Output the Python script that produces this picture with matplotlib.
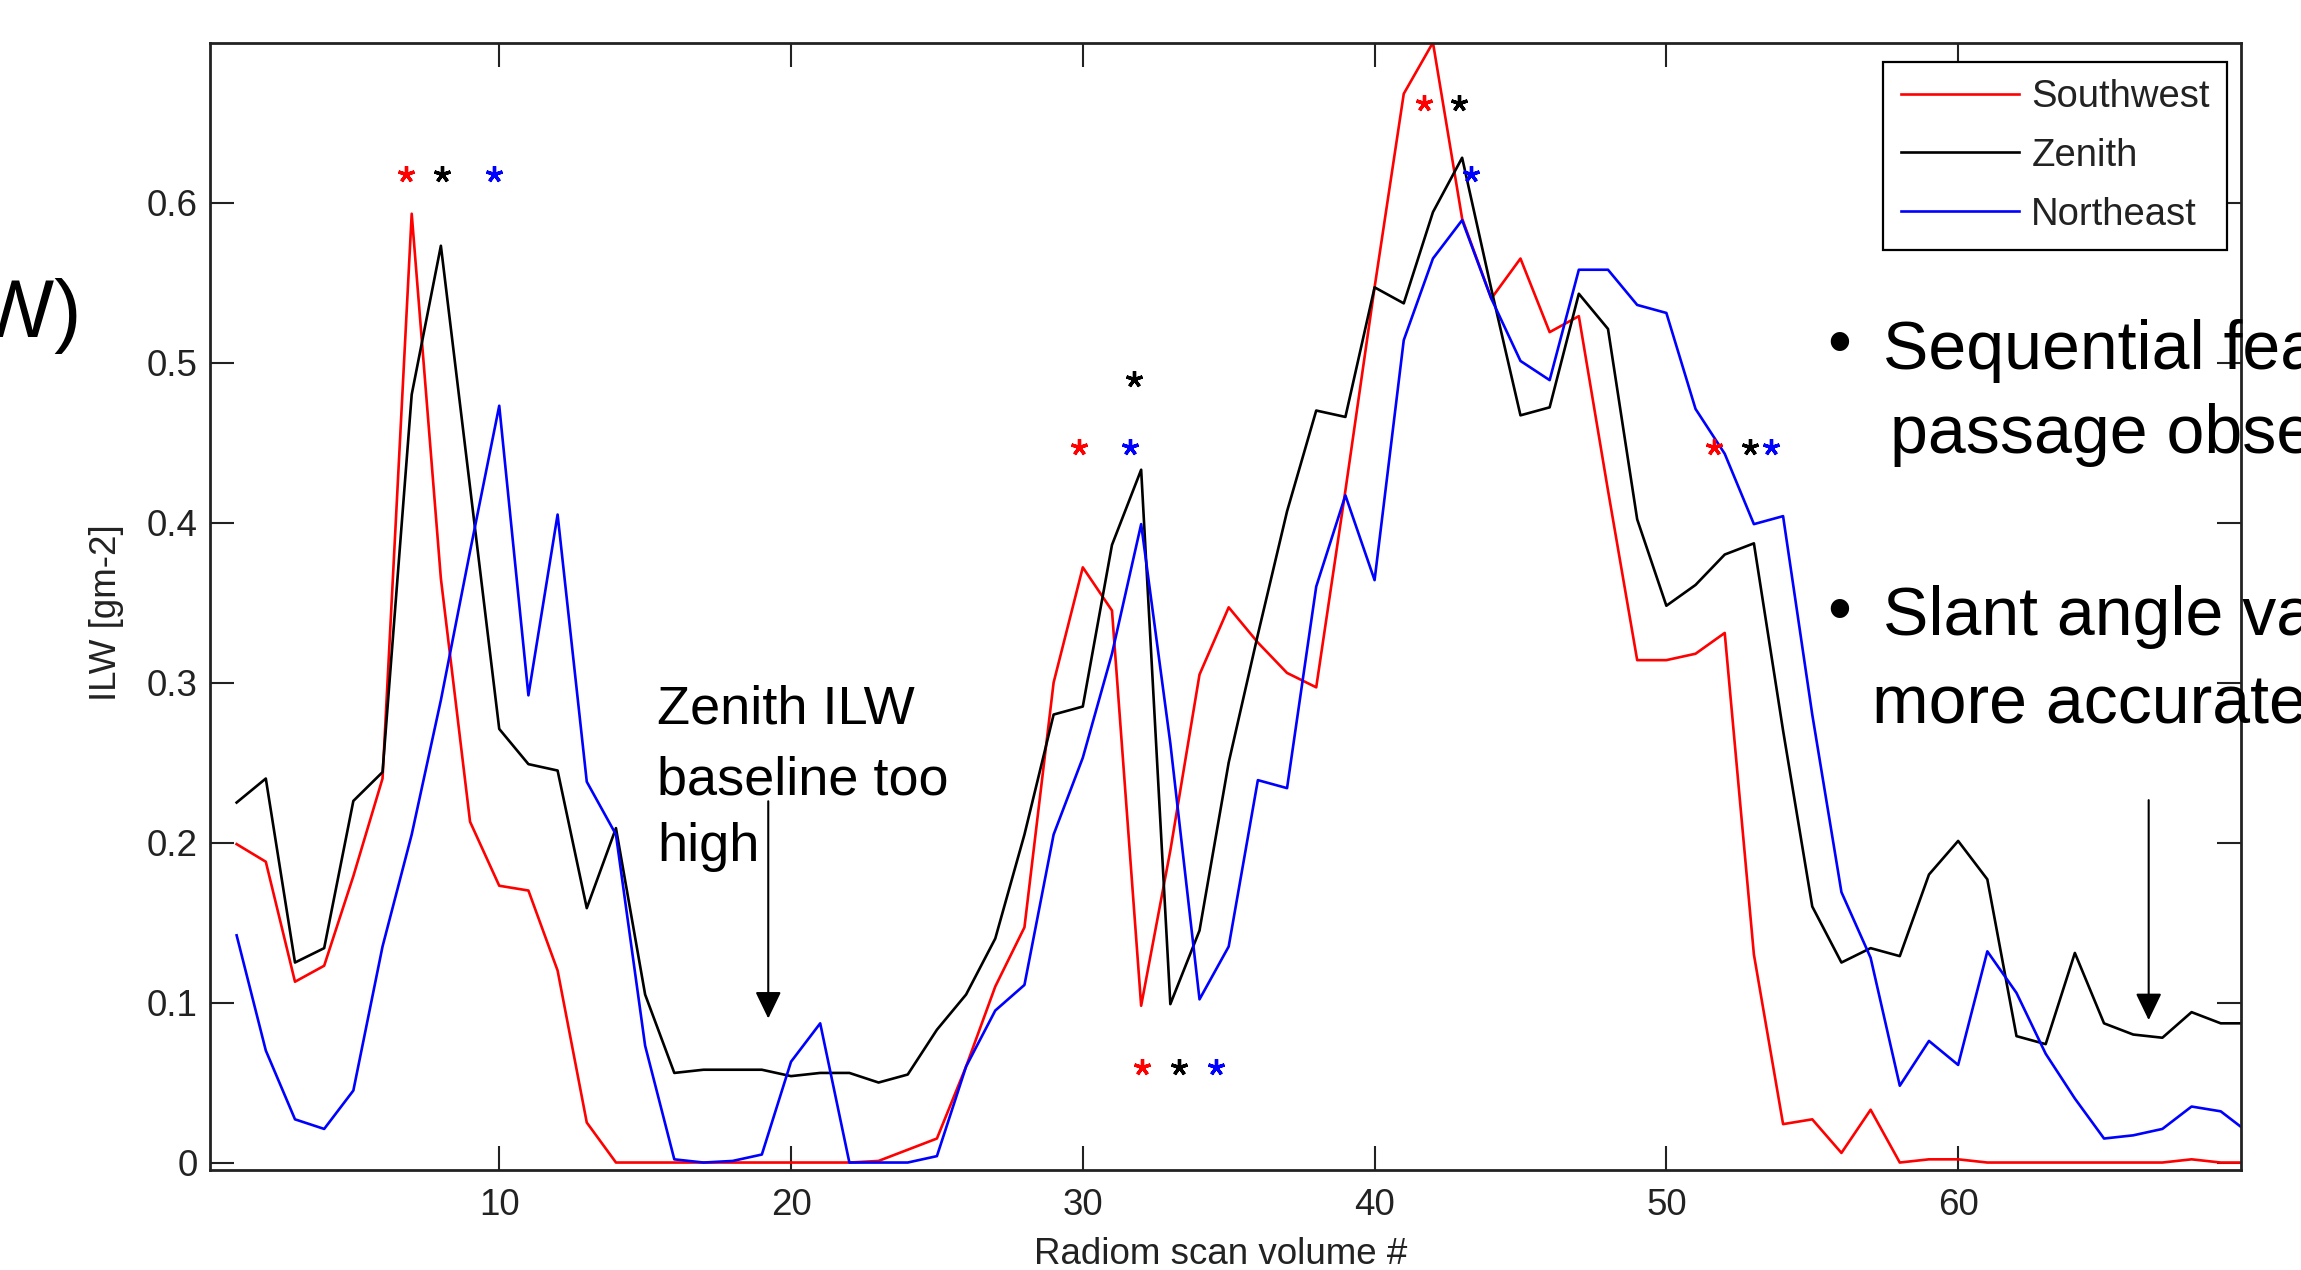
import matplotlib
matplotlib.use("Agg")
import matplotlib.pyplot as plt

# scan volume index
scan = list(range(1, 71))

southwest = [0.199, 0.188, 0.113, 0.123, 0.179, 0.240, 0.593, 0.365, 0.213, 0.173,
             0.170, 0.120, 0.025, 0.0, 0.0, 0.0, 0.0, 0.0, 0.0, 0.0,
             0.0, 0.0, 0.001, 0.008, 0.015, 0.060, 0.110, 0.147, 0.300, 0.372,
             0.345, 0.098, 0.195, 0.305, 0.347, 0.325, 0.306, 0.297, 0.420, 0.547,
             0.668, 0.700, 0.590, 0.540, 0.565, 0.519, 0.529, 0.420, 0.314, 0.314,
             0.318, 0.331, 0.130, 0.024, 0.027, 0.006, 0.033, 0.0, 0.002, 0.002,
             0.0, 0.0, 0.0, 0.0, 0.0, 0.0, 0.0, 0.002, 0.0, 0.0]

zenith = [0.225, 0.240, 0.125, 0.134, 0.226, 0.244, 0.480, 0.573, 0.422, 0.271,
          0.249, 0.245, 0.159, 0.209, 0.105, 0.056, 0.058, 0.058, 0.058, 0.054,
          0.056, 0.056, 0.050, 0.055, 0.083, 0.105, 0.140, 0.205, 0.280, 0.285,
          0.386, 0.433, 0.099, 0.145, 0.250, 0.330, 0.407, 0.470, 0.466, 0.547,
          0.537, 0.594, 0.628, 0.546, 0.467, 0.472, 0.543, 0.521, 0.402, 0.348,
          0.361, 0.380, 0.387, 0.270, 0.160, 0.125, 0.134, 0.129, 0.180, 0.201,
          0.177, 0.079, 0.074, 0.131, 0.087, 0.080, 0.078, 0.094, 0.087, 0.087]

northeast = [0.142, 0.070, 0.027, 0.021, 0.045, 0.135, 0.205, 0.289, 0.382, 0.473,
             0.292, 0.405, 0.238, 0.205, 0.073, 0.002, 0.0, 0.001, 0.005, 0.063,
             0.087, 0.0, 0.0, 0.0, 0.004, 0.060, 0.095, 0.111, 0.205, 0.253,
             0.318, 0.399, 0.262, 0.102, 0.135, 0.239, 0.234, 0.360, 0.417, 0.364,
             0.514, 0.565, 0.589, 0.540, 0.501, 0.489, 0.558, 0.558, 0.536, 0.531,
             0.471, 0.443, 0.399, 0.404, 0.280, 0.169, 0.128, 0.048, 0.076, 0.061,
             0.132, 0.106, 0.068, 0.040, 0.015, 0.017, 0.021, 0.035, 0.032, 0.018]

# asterisks marking the feature passage
sw_star_x = [6.8, 29.86, 41.69, 32.03, 51.63]
sw_star_y = [0.618, 0.447, 0.662, 0.060, 0.447]
zen_star_x = [8.04, 31.77, 42.91, 33.29, 52.86]
zen_star_y = [0.618, 0.490, 0.662, 0.060, 0.447]
ne_star_x = [9.83, 31.63, 43.32, 34.55, 53.59]
ne_star_y = [0.618, 0.447, 0.618, 0.060, 0.447]

xticks = [10, 20, 30, 40, 50, 60]
yticks = [0, 0.1, 0.2, 0.3, 0.4, 0.5, 0.6]
ytick_labels = ['0', '0.1', '0.2', '0.3', '0.4', '0.5', '0.6']

plt.rcParams['font.family'] = ['Liberation Sans', 'DejaVu Sans']

W, H = 2301, 1270
fig = plt.figure(figsize=(W / 100, H / 100), dpi=100)
ax = fig.add_axes([0.0913, 0.0787, 0.8827, 0.8878])


def fig_xy(px, py):
    return px / W, 1 - py / H


ax.plot(scan, southwest, color='#ff0000', lw=1.9, label='Southwest')
ax.plot(scan, zenith, color='#000000', lw=1.9, label='Zenith')
ax.plot(scan, northeast, color='#0000ff', lw=1.9, label='Northeast')

star = (5, 2, 0)
ax.plot(sw_star_x, sw_star_y, ls='none', marker=star, ms=12, mew=2.4, color='#ff0000')
ax.plot(zen_star_x, zen_star_y, ls='none', marker=star, ms=12, mew=2.4, color='#000000')
ax.plot(ne_star_x, ne_star_y, ls='none', marker=star, ms=12, mew=2.4, color='#0000ff')

ax.set_xlim(0.09, 69.7)
ax.set_ylim(-0.0047, 0.7)
ax.set_xticks(xticks)
ax.set_yticks(yticks)
ax.set_yticklabels(ytick_labels)
ax.tick_params(direction='in', length=17, width=1.5, top=True, right=True,
               labelsize=26.5, labelcolor='#222222', color='#222222')
ax.tick_params(axis='x', pad=13)
ax.tick_params(axis='y', pad=9)
for s in ax.spines.values():
    s.set_linewidth(2)
    s.set_color('#222222')

ax.set_xlabel('Radiom scan volume #', fontsize=26.5, color='#222222')
ax.xaxis.set_label_coords(0.4973, -0.0595)
ax.set_ylabel('ILW [gm-2]', fontsize=26.5, color='#222222')
ax.yaxis.set_label_coords(-0.0423, 0.494)

leg = ax.legend(loc='upper right', bbox_to_anchor=(0.993, 0.983), borderaxespad=0,
                fontsize=27.5, frameon=True, fancybox=False, edgecolor='k',
                framealpha=1, borderpad=0.45, labelspacing=0.6,
                handlelength=3.1, handletextpad=0.32)
leg.get_frame().set_linewidth(1.6)
for t in leg.get_texts():
    t.set_color('#222222')

# annotation inside the plot
ax.text(15.42, 0.2742, 'Zenith ILW', fontsize=39, ha='left', va='baseline')
ax.text(15.42, 0.2303, 'baseline too', fontsize=39, ha='left', va='baseline')
ax.text(15.42, 0.1883, 'high', fontsize=39, ha='left', va='baseline')

arrow = dict(arrowstyle='-|>,head_length=0.83,head_width=0.4', mutation_scale=20,
             lw=1.5, color='k', shrinkA=0, shrinkB=0)
ax.annotate('', xy=(19.22, 0.090), xytext=(19.22, 0.2258), arrowprops=arrow)
ax.annotate('', xy=(66.53, 0.089), xytext=(66.53, 0.2265), arrowprops=arrow)

# slide text around the chart
fig.text(*fig_xy(82, 336.7), '(ILW)', fontsize=59, ha='right', va='baseline')
fig.text(*fig_xy(1839, 364), '\u2022', fontsize=49, ha='center', va='baseline')
fig.text(*fig_xy(1882.7, 369.4), 'Sequential feature', fontsize=49, ha='left', va='baseline')
fig.text(*fig_xy(1890, 453), 'passage observed', fontsize=49, ha='left', va='baseline')
fig.text(*fig_xy(1839, 631), '\u2022', fontsize=49, ha='center', va='baseline')
fig.text(*fig_xy(1882.7, 634.8), 'Slant angle values', fontsize=49, ha='left', va='baseline')
fig.text(*fig_xy(1872.4, 723.9), 'more accurate', fontsize=49, ha='left', va='baseline')

fig.savefig('out.png', dpi=100)
